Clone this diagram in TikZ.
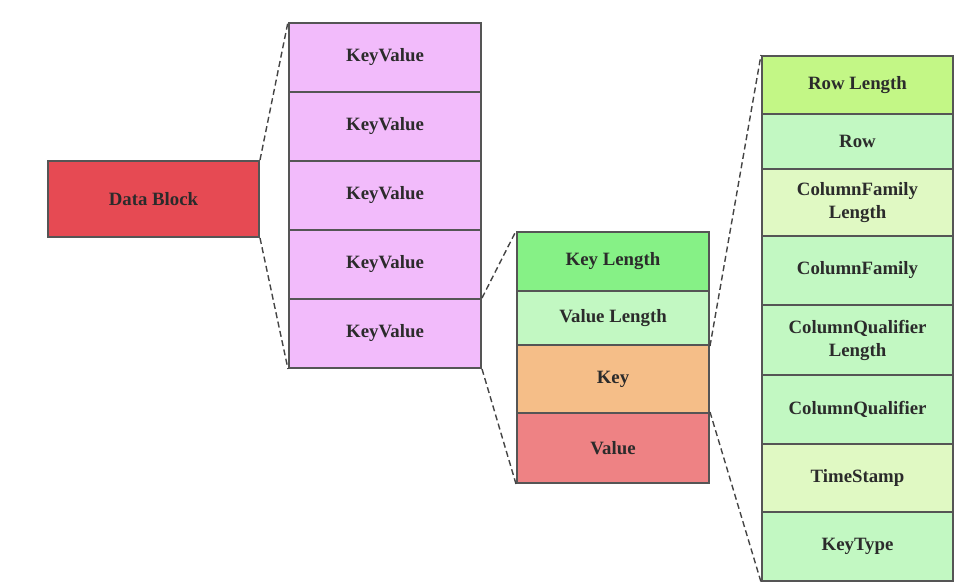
\documentclass[tikz,border=0pt]{standalone}
\usepackage{fontspec}
\setmainfont{Liberation Serif}
\begin{document}
\begin{tikzpicture}[x=1pt,y=-1pt,
  cell/.style={draw=bordergray, line width=2pt, anchor=north west, inner sep=0pt,
    align=center, text=txt, font=\fontsize{18.8}{23}\selectfont\bfseries},
  link/.style={draw=linkgray, line width=1.4pt, dash pattern=on 6pt off 3.5pt}]
\definecolor{bordergray}{HTML}{555555}
\definecolor{linkgray}{HTML}{444444}
\definecolor{txt}{HTML}{2B2B2B}
\definecolor{cred}{HTML}{E64A53}
\definecolor{cpink}{HTML}{F2BBFB}
\definecolor{cgreen}{HTML}{86F186}
\definecolor{clgreen}{HTML}{C2F8C2}
\definecolor{corange}{HTML}{F5BE88}
\definecolor{csalmon}{HTML}{EE8284}
\definecolor{cyg}{HTML}{C3F786}
\definecolor{cpale}{HTML}{E0F9C3}
\useasboundingbox (0,0) rectangle (960,585);
% Data block
\node[cell, fill=cred, minimum width=211pt, minimum height=76pt] (db) at (47,160) {Data Block};
% KeyValue column
\node[cell, fill=cpink, minimum width=192pt, minimum height=69pt] (kv1) at (288,22) {KeyValue};
\node[cell, fill=cpink, minimum width=192pt, minimum height=69pt] (kv2) at (288,91) {KeyValue};
\node[cell, fill=cpink, minimum width=192pt, minimum height=69pt] (kv3) at (288,160) {KeyValue};
\node[cell, fill=cpink, minimum width=192pt, minimum height=69pt] (kv4) at (288,229) {KeyValue};
\node[cell, fill=cpink, minimum width=192pt, minimum height=69pt] (kv5) at (288,298) {KeyValue};
% Middle column
\node[cell, fill=cgreen, minimum width=192pt, minimum height=59pt] (klen) at (516,231) {Key Length};
\node[cell, fill=clgreen, minimum width=192pt, minimum height=54pt] (vlen) at (516,290) {Value Length};
\node[cell, fill=corange, minimum width=192pt, minimum height=68pt] (key) at (516,344) {Key};
\node[cell, fill=csalmon, minimum width=192pt, minimum height=70pt] (val) at (516,412) {Value};
% Right column
\node[cell, fill=cyg, minimum width=191pt, minimum height=58pt] (r1) at (761,55) {Row Length};
\node[cell, fill=clgreen, minimum width=191pt, minimum height=55pt] (r2) at (761,113) {Row};
\node[cell, fill=cpale, minimum width=191pt, minimum height=67pt] (r3) at (761,168) {ColumnFamily\\Length};
\node[cell, fill=clgreen, minimum width=191pt, minimum height=69pt] (r4) at (761,235) {ColumnFamily};
\node[cell, fill=clgreen, minimum width=191pt, minimum height=70pt] (r5) at (761,304) {ColumnQualifier\\Length};
\node[cell, fill=clgreen, minimum width=191pt, minimum height=69pt] (r6) at (761,374) {ColumnQualifier};
\node[cell, fill=cpale, minimum width=191pt, minimum height=68pt] (r7) at (761,443) {TimeStamp};
\node[cell, fill=clgreen, minimum width=191pt, minimum height=69pt] (r8) at (761,511) {KeyType};
% Connectors
\draw[link] (db.north east) -- (kv1.north west);
\draw[link] (db.south east) -- (kv5.south west);
\draw[link] (kv5.north east) -- (klen.north west);
\draw[link] (kv5.south east) -- (val.south west);
\draw[link] (vlen.south east) -- (r1.north west);
\draw[link] (val.north east) -- (r8.south west);
\end{tikzpicture}
\end{document}
